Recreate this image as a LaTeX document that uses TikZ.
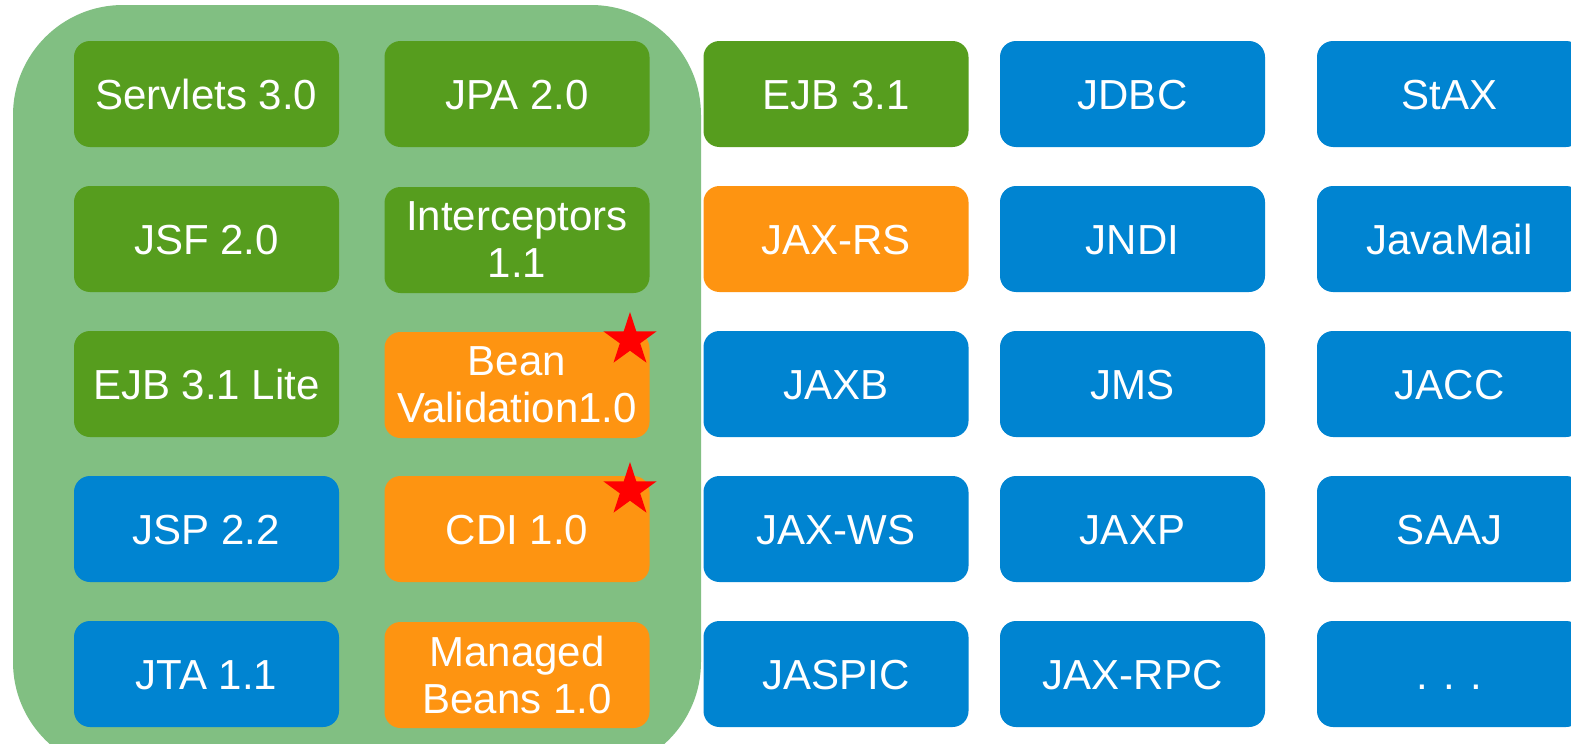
\documentclass[tikz,border=0pt]{standalone}
\usepackage{fontspec}
\setmainfont{Liberation Sans}
\usetikzlibrary{shapes.geometric}
\definecolor{cgreen}{RGB}{86,157,30}
\definecolor{clight}{RGB}{129,191,130}
\definecolor{cblue}{RGB}{0,132,209}
\definecolor{corange}{RGB}{254,148,17}
\definecolor{cred}{RGB}{255,0,0}
\tikzset{
  box/.style={rounded corners=8pt, minimum width=132.5pt, minimum height=53pt,
    inner sep=0pt, text=white, align=center,
    font=\fontsize{21pt}{23.5pt}\selectfont},
  one/.style={text height=15.04pt, text depth=0pt},
  gbox/.style={box, fill=cgreen},
  bbox/.style={box, fill=cblue},
  obox/.style={box, fill=corange},
  redstar/.style={star, star points=5, star point ratio=2.618, fill=cred,
    draw=none, inner sep=0pt, minimum size=28pt}
}
\begin{document}
\begin{tikzpicture}[x=0.5pt,y=-0.5pt]
\useasboundingbox (0,0) rectangle (1571,744);
\clip (0,0) rectangle (1571,744);
\fill[white] (0,0) rectangle (1571,744);
\fill[clight, rounded corners=55pt] (13,5) rectangle (701,772);
% column 1
\node[gbox,one] (servlets) at (206.5,94) {Servlets 3.0};
\node[gbox,one] (jsf) at (206.5,239) {JSF 2.0};
\node[gbox,one] (ejblite) at (206.5,384) {EJB 3.1 Lite};
\node[bbox,one] (jsp) at (206.5,529) {JSP 2.2};
\node[bbox,one] (jta) at (206.5,674) {JTA 1.1};
% column 2
\node[gbox,one] (jpa) at (517,94) {JPA 2.0};
\node[gbox] (interc) at (517,240) {Interceptors\\1.1};
\node[obox] (beanval) at (517,385) {Bean\\Validation1.0};
\node[obox,one] (cdi) at (517,529) {CDI 1.0};
\node[obox] (mbeans) at (517,675) {Managed\\Beans 1.0};
% column 3
\node[gbox,one] (ejb) at (836,94) {EJB 3.1};
\node[obox,one] (jaxrs) at (836,239) {JAX-RS};
\node[bbox,one] (jaxb) at (836,384) {JAXB};
\node[bbox,one] (jaxws) at (836,529) {JAX-WS};
\node[bbox,one] (jaspic) at (836,674) {JASPIC};
% column 4
\node[bbox,one] (jdbc) at (1132.5,94) {JDBC};
\node[bbox,one] (jndi) at (1132.5,239) {JNDI};
\node[bbox,one] (jms) at (1132.5,384) {JMS};
\node[bbox,one] (jaxp) at (1132.5,529) {JAXP};
\node[bbox,one] (jaxrpc) at (1132.5,674) {JAX-RPC};
% column 5
\node[bbox,one] (stax) at (1449.5,94) {StAX};
\node[bbox,one] (javamail) at (1449.5,239) {JavaMail};
\node[bbox,one] (jacc) at (1449.5,384) {JACC};
\node[bbox,one] (saaj) at (1449.5,529) {SAAJ};
\node[bbox,one] (more) at (1449.5,674) {. . .};
% stars
\node[redstar] (star1) at (630,340) {};
\node[redstar] (star2) at (630,490) {};
\end{tikzpicture}
\end{document}
